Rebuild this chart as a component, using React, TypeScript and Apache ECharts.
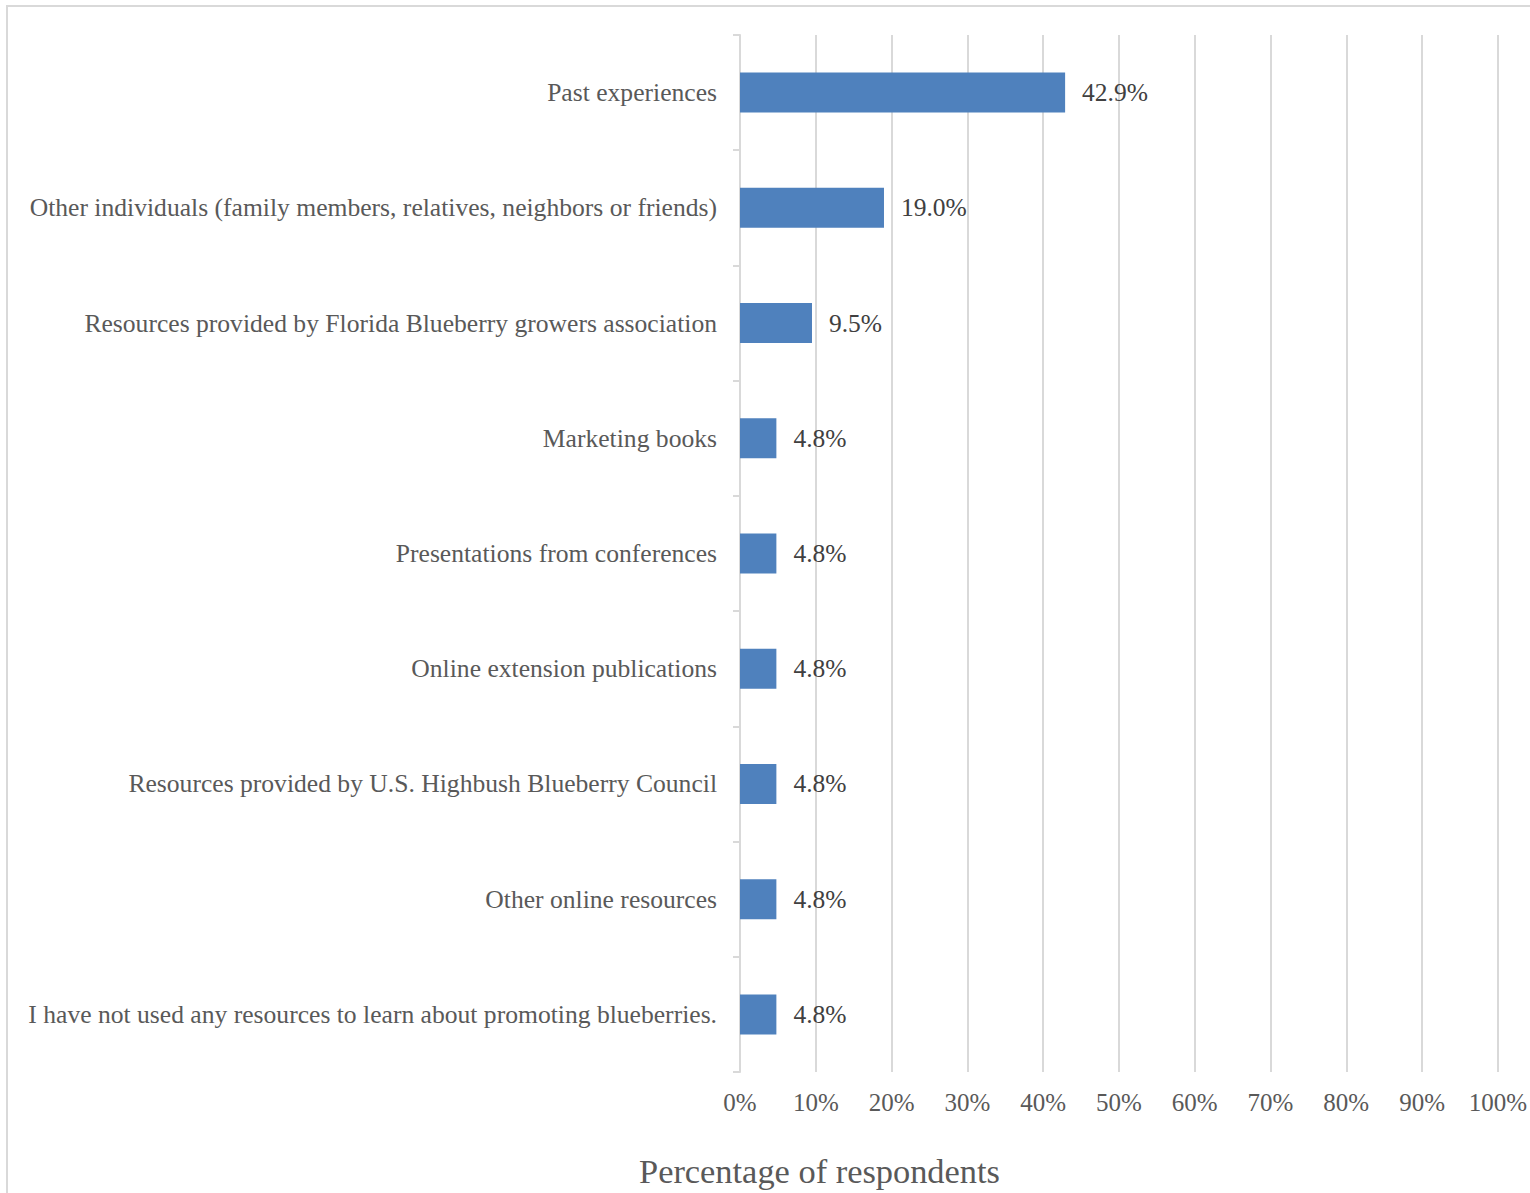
import React, { useEffect, useRef } from "react";
import * as echarts from "echarts";

const categories = [
  "Past experiences",
  "Other individuals (family members, relatives, neighbors or friends)",
  "Resources provided by Florida Blueberry growers association",
  "Marketing books",
  "Presentations from conferences",
  "Online extension publications",
  "Resources provided by U.S. Highbush Blueberry Council",
  "Other online resources",
  "I have not used any resources to learn about promoting blueberries.",
];
const values = [42.9, 19.0, 9.5, 4.8, 4.8, 4.8, 4.8, 4.8, 4.8];
const axisTitle = "Percentage of respondents";

const FONT = "'Liberation Serif', 'DejaVu Serif', serif";

export default function App() {
  const ref = useRef<HTMLDivElement>(null);
  useEffect(() => {
    document.body.style.margin = "0";
    const chart = echarts.init(ref.current!, null, { renderer: "svg" });
    chart.setOption({
      animation: false,
      backgroundColor: "#ffffff",
      textStyle: { fontFamily: FONT },
      grid: { left: 740, right: 28, top: 35, bottom: 121, containLabel: false },
      xAxis: {
        type: "value",
        min: 0,
        max: 100,
        interval: 10,
        axisLine: { show: false },
        axisTick: { show: false },
        splitLine: { show: true, lineStyle: { color: "#d9d9d9", width: 2 } },
        axisLabel: {
          formatter: (v: number) => v + "%",
          color: "#595959",
          fontSize: 25,
          fontFamily: FONT,
          margin: 18,
        },
      },
      yAxis: {
        type: "category",
        data: categories,
        inverse: true,
        axisLine: { show: true, lineStyle: { color: "#d9d9d9", width: 2 } },
        axisTick: { show: true, length: 7, lineStyle: { color: "#d9d9d9", width: 2 } },
        axisLabel: {
          color: "#595959",
          fontSize: 25.6,
          fontFamily: FONT,
          margin: 23,
        },
      },
      series: [
        {
          type: "bar",
          data: values,
          barWidth: 40,
          itemStyle: { color: "#4f81bd" },
          label: {
            show: true,
            position: "right",
            distance: 17,
            formatter: (p: any) => p.value.toFixed(1) + "%",
            color: "#404040",
            fontSize: 25.5,
            fontFamily: FONT,
          },
        },
      ],
      graphic: [
        {
          type: "rect",
          shape: { x: 7, y: 6, width: 1600, height: 1300 },
          style: { fill: "none", stroke: "#d9d9d9", lineWidth: 2 },
          silent: true,
        },
        {
          type: "text",
          left: 639,
          top: 1154,
          style: {
            text: axisTitle,
            fill: "#595959",
            fontSize: 34.4,
            fontFamily: FONT,
          },
        },
      ],
    });
    return () => chart.dispose();
  }, []);
  return <div ref={ref} style={{ width: 1530, height: 1193 }} />;
}
